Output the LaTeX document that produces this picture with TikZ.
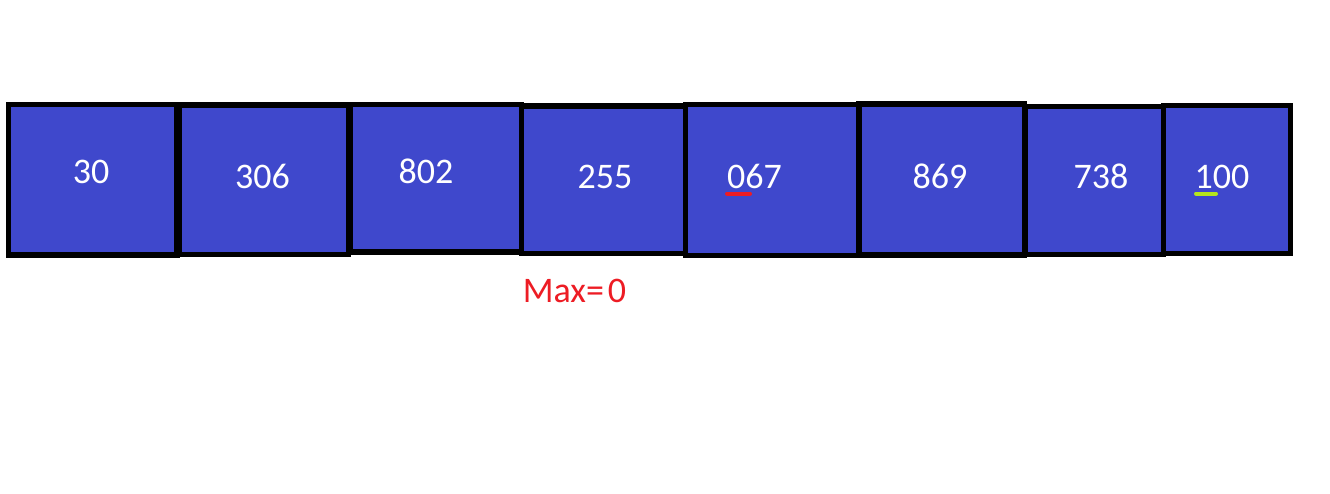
\documentclass[tikz,border=0pt]{standalone}
\usepackage{fontspec}
\setmainfont{Carlito}
\usepackage{tikz}
\usetikzlibrary{calc}
\definecolor{indigo}{RGB}{63,72,204}
\definecolor{paintred}{RGB}{237,28,36}
\definecolor{paintlime}{RGB}{181,230,29}

\begin{document}
\begin{tikzpicture}[x=1pt, y=-1pt,
cell/.style={rectangle, draw=black, fill=indigo, line width=5.5pt, inner sep=0pt},
digits/.style={text=white, inner sep=0pt, font=\fontsize{36}{40}\selectfont},
maxlabel/.style={text=paintred, inner sep=0pt, font=\fontsize{36}{40}\selectfont},
underbar/.style={line width=4pt, line cap=round}
    ]
  \useasboundingbox (0,0) rectangle (1330,493);
  % the array cells
  \node[cell, minimum width=168.5pt, minimum height=150.5pt] (c1) at (92.75,179.75) {};
  \node[cell, minimum width=169.5pt, minimum height=149.5pt] (c2) at (263.75,179.75) {};
  \node[cell, minimum width=171pt, minimum height=147.5pt] (c3) at (436,178.25) {};
  \node[cell, minimum width=164pt, minimum height=147.5pt] (c4) at (603.5,179.75) {};
  \node[cell, minimum width=173.5pt, minimum height=151pt] (c5) at (772.25,180) {};
  \node[cell, minimum width=165.5pt, minimum height=151pt] (c6) at (941.75,179.5) {};
  \node[cell, minimum width=138pt, minimum height=148pt] (c7) at (1094.5,180.5) {};
  \node[cell, minimum width=127pt, minimum height=148pt] (c8) at (1227,179.5) {};
  % values
  \node[digits] (v1) at (91,171.5) {30};
  \node[digits] (v2) at (262.5,176.5) {306};
  \node[digits] (v3) at (426,171.5) {802};
  \node[digits] (v4) at (605,176.5) {255};
  \node[digits] (v5) at (754.5,176.5) {067};
  \node[digits] (v6) at (940,176.5) {869};
  \node[digits] (v7) at (1101,176.5) {738};
  \node[digits] (v8) at (1222,176.5) {100};
  \draw[underbar, paintred] (727,193.5) -- (750,193.5);
  \draw[underbar, paintlime] (1196,193.5) -- (1216,193.5);
  \node[maxlabel] (max) at (574.5,291) {Max=\kern4pt0};
\end{tikzpicture}
\end{document}
